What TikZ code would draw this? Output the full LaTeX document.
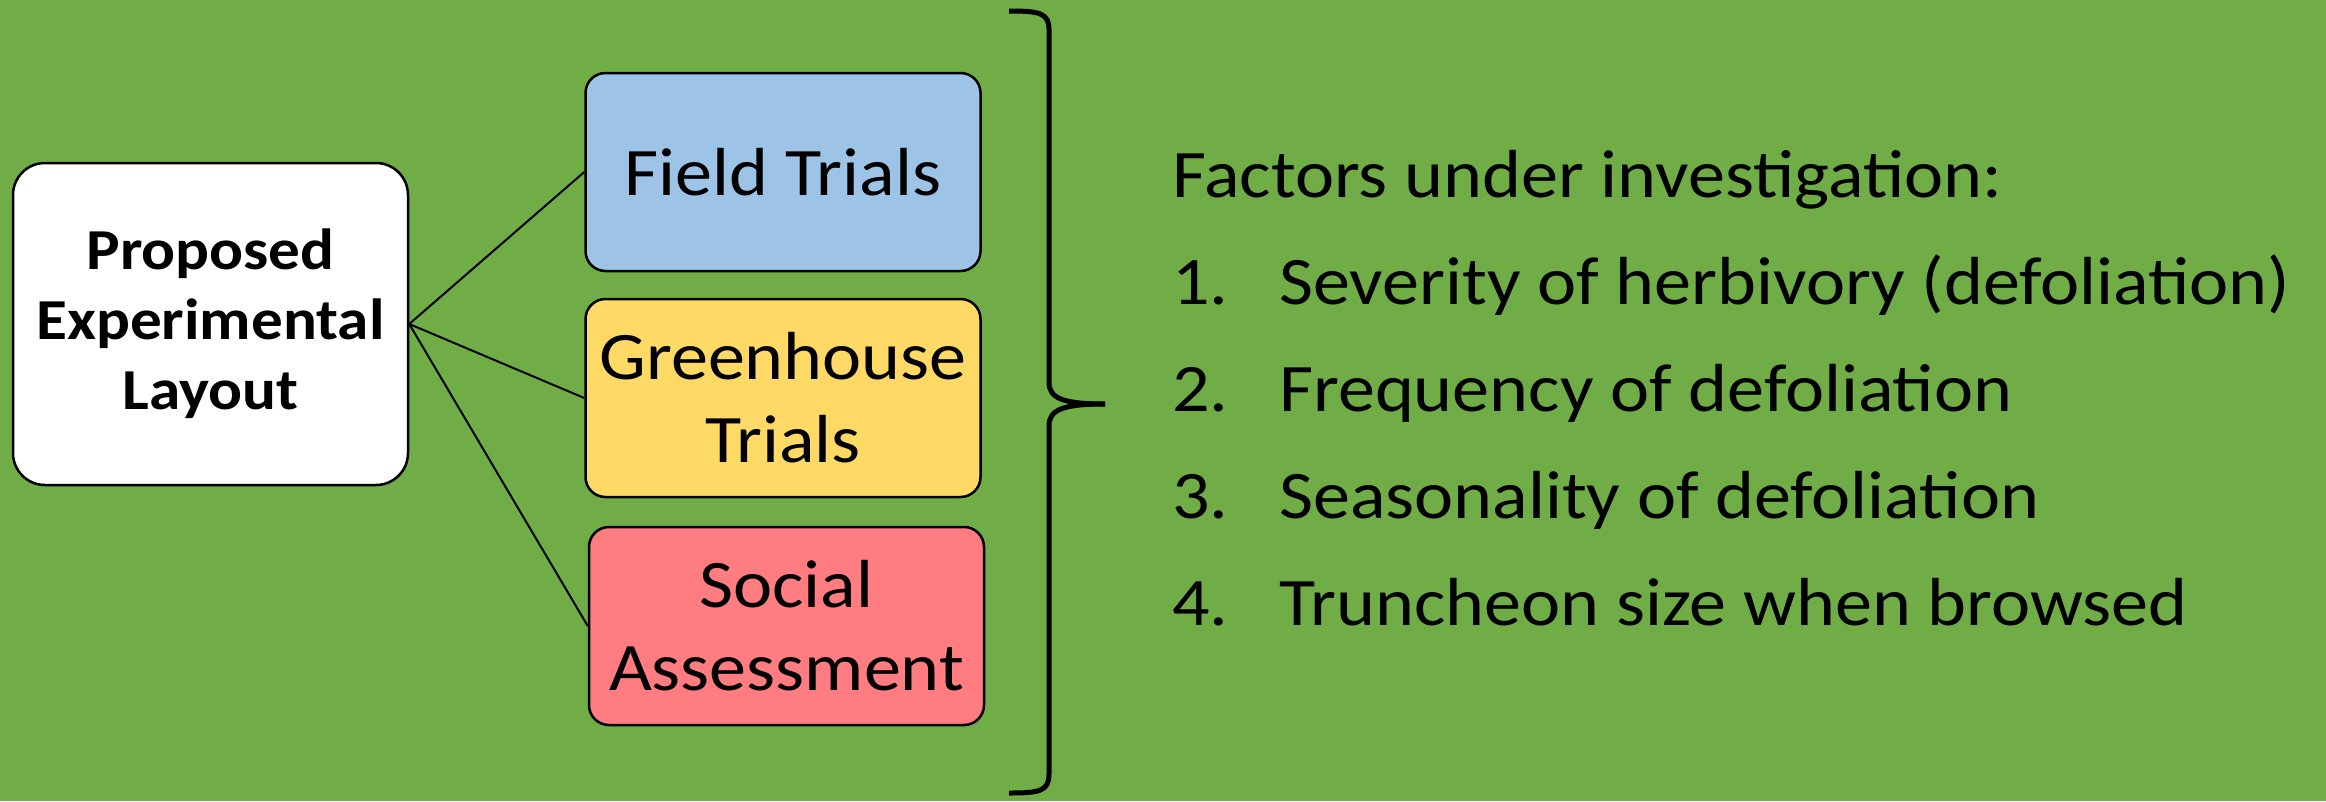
\documentclass[tikz,border=0pt]{standalone}
\usepackage{fontspec}
\setmainfont{Carlito}[FakeStretch=1.09]
\definecolor{bggreen}{HTML}{70AD47}
\definecolor{boxblue}{HTML}{9DC3E6}
\definecolor{boxyellow}{HTML}{FFD966}
\definecolor{boxred}{HTML}{FF7C80}
\tikzset{
  mainbox/.style={draw=black, line width=2.5pt, fill=white, rounded corners=32pt,
    minimum width=395pt, minimum height=322pt, align=center, inner sep=0pt,
    font=\fontsize{58}{70}\selectfont\bfseries},
  catbox/.style={draw=black, line width=2.5pt, rounded corners=20pt,
    minimum width=395pt, minimum height=198pt, align=center, inner sep=0pt,
    font=\fontsize{68}{83}\selectfont},
  link/.style={draw=black, line width=2pt},
  factor/.style={anchor=base west, inner sep=0pt, font=\fontsize{68}{82}\selectfont},
}
\begin{document}
\begin{tikzpicture}[x=1pt, y=-1pt]
\useasboundingbox (0,0) rectangle (2326,801);
\fill[bggreen] (0,0) rectangle (2326,801);
\node[mainbox] (main) at (210.5,324) {Proposed\\Experimental\\Layout};
\node[catbox, fill=boxblue] (field) at (783,172) {Field Trials};
\node[catbox, fill=boxyellow] (green) at (783,398) {Greenhouse\\Trials};
\node[catbox, fill=boxred] (social) at (786.5,626) {Social\\Assessment};
\draw[link] (main.east) -- (field.west);
\draw[link] (main.east) -- (green.west);
\draw[link] (main.east) -- (social.west);
\coordinate (btop) at (1009,11);
\coordinate (btip) at (1105,404);
\coordinate (bbot) at (1009,793);
\draw[line width=5pt] (btop) .. controls (1040,11) and (1049,13) .. (1049,30)
  -- (1049,382) .. controls (1049,398) and (1062,404) .. (btip);
\draw[line width=5pt] (bbot) .. controls (1040,793) and (1049,791) .. (1049,774)
  -- (1049,426) .. controls (1049,410) and (1062,404) .. (btip);
\node[factor] (head) at (1172,197) {Factors under investigation:};
\node[factor] (n1) at (1172,304) {1.};
\node[factor] (t1) at (1279,304) {Severity of herbivory (defoliation)};
\node[factor] (n2) at (1172,411) {2.};
\node[factor] (t2) at (1279,411) {Frequency of defoliation};
\node[factor] (n3) at (1172,518) {3.};
\node[factor] (t3) at (1279,518) {Seasonality of defoliation};
\node[factor] (n4) at (1172,625) {4.};
\node[factor] (t4) at (1279,625) {Truncheon size when browsed};
\end{tikzpicture}
\end{document}
